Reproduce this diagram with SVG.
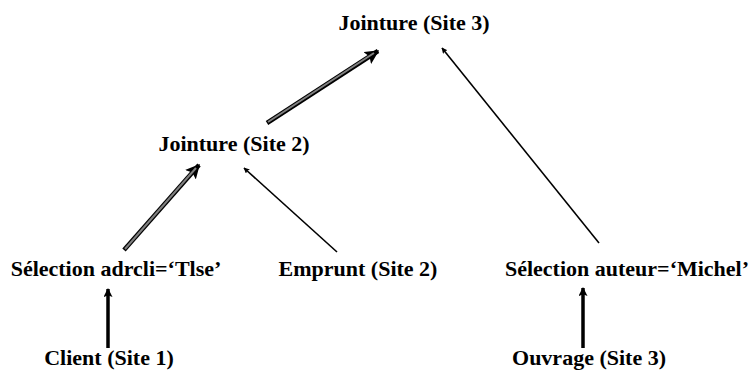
<svg xmlns="http://www.w3.org/2000/svg" width="756" height="373" viewBox="0 0 756 373">
<defs>
<style>
text{font-family:"Liberation Serif","Times New Roman",serif;font-weight:bold;font-size:22px;fill:#000;text-anchor:middle}
.thin{stroke:#000;stroke-width:1.6;fill:none}
.outer{stroke:#000;stroke-width:4.5;fill:none}
.inner{stroke:#808080;stroke-width:2;fill:none}
.vert{stroke:#000;stroke-width:3.5;fill:none}
</style>
<marker id="ah" viewBox="0 0 10 10" refX="9" refY="5" markerWidth="6" markerHeight="6" orient="auto" markerUnits="userSpaceOnUse">
<path d="M0,0 L10,5 L0,10 L2,5 z" fill="#000"/>
</marker>
<marker id="ahT" viewBox="0 0 10 10" refX="9" refY="5" markerWidth="3.2" markerHeight="3.2" orient="auto">
<path d="M0,0 L10,5 L0,10 L2,5 z" fill="#000"/>
</marker>
<marker id="ahV" viewBox="0 0 10 10" refX="9" refY="5" markerWidth="10" markerHeight="9" orient="auto" markerUnits="userSpaceOnUse">
<path d="M0,0 L10,5 L0,10 L2,5 z" fill="#000"/>
</marker>
</defs>
<rect width="756" height="373" fill="#fff"/>
<g id="connectors">
<line class="outer" x1="267" y1="123" x2="378" y2="51" marker-end="url(#ahT)"/>
<line class="inner" x1="268" y1="122" x2="374" y2="53"/>
<line class="outer" x1="124" y1="250" x2="199" y2="165" marker-end="url(#ahT)"/>
<line class="inner" x1="125" y1="249" x2="196" y2="168"/>
<line class="thin" x1="599" y1="243" x2="442" y2="48" marker-end="url(#ah)"/>
<line class="thin" x1="337" y1="252" x2="244" y2="168" marker-end="url(#ah)"/>
<line class="vert" x1="108" y1="348" x2="108" y2="289" marker-end="url(#ahV)"/>
<line class="vert" x1="583" y1="348" x2="583" y2="288" marker-end="url(#ahV)"/>
</g>
<g id="jointure3"><text x="414" y="30">Jointure (Site 3)</text></g>
<g id="jointure2"><text x="234" y="151">Jointure (Site 2)</text></g>
<g id="selection_adrcli"><text x="116" y="276">Sélection adrcli=‘Tlse’</text></g>
<g id="emprunt"><text x="358" y="276">Emprunt (Site 2)</text></g>
<g id="selection_auteur"><text x="627" y="276">Sélection auteur=‘Michel’</text></g>
<g id="client"><text x="109" y="365">Client (Site 1)</text></g>
<g id="ouvrage"><text x="589" y="365">Ouvrage (Site 3)</text></g>
</svg>
